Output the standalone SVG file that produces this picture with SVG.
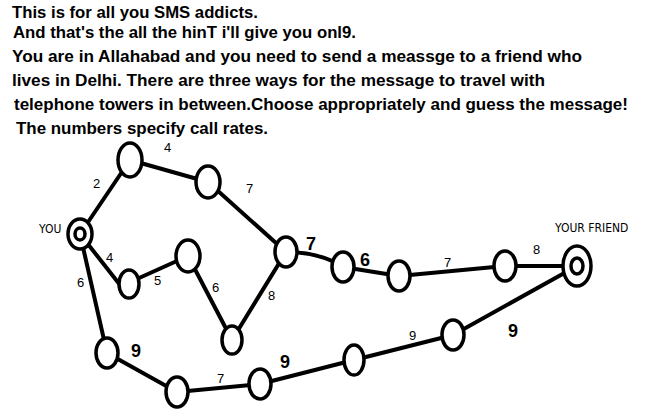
<svg xmlns="http://www.w3.org/2000/svg" width="661" height="420" viewBox="0 0 661 420">
<style>
.hdr{font-family:"Liberation Sans",Arial,sans-serif;font-size:17px;font-weight:bold;fill:#000}
.n ellipse{fill:#fff;stroke:#000;stroke-width:3.5}
.c path{fill:none;stroke:#000;stroke-width:4;stroke-linecap:round}
.s{font-family:"DejaVu Sans Condensed","Liberation Sans",sans-serif;font-size:12px;fill:#000}
.w{font-family:"Liberation Sans",Arial,sans-serif;font-size:13px;fill:#000}
.b{font-family:"Liberation Sans",Arial,sans-serif;font-size:18px;font-weight:bold;fill:#000}
</style>
<rect width="661" height="420" fill="#fff"/>
<g id="header">
<text class="hdr" x="12" y="18" textLength="246" lengthAdjust="spacingAndGlyphs">This is for all you SMS addicts.</text>
<text class="hdr" x="13" y="38" textLength="343" lengthAdjust="spacingAndGlyphs">And that's the all the hinT i'll give you onl9.</text>
<text class="hdr" x="12" y="62" textLength="570" lengthAdjust="spacingAndGlyphs">You are in Allahabad and you need to send a meassge to a friend who</text>
<text class="hdr" x="12" y="86" textLength="533" lengthAdjust="spacingAndGlyphs">lives in Delhi. There are three ways for the message to travel with</text>
<text class="hdr" x="14" y="110" textLength="614" lengthAdjust="spacingAndGlyphs">telephone towers in between.Choose appropriately and guess the message!</text>
<text class="hdr" x="16" y="134" textLength="252" lengthAdjust="spacingAndGlyphs">The numbers specify call rates.</text>
</g>
<g id="connectors" class="c">
<path d="M80,234 L130,160"/>
<path d="M130,160 L208,182"/>
<path d="M208,182 L286,252"/>
<path d="M286,252 Q320,252 343,267"/>
<path d="M343,267 L399,276"/>
<path d="M399,276 L505,266"/>
<path d="M505,266 L577,266"/>
<path d="M80,234 L124,290"/>
<path d="M128,283 L188,256"/>
<path d="M188,256 L232,340"/>
<path d="M232,340 L286,252"/>
<path d="M80,234 L107,353"/>
<path d="M107,353 L177,392"/>
<path d="M177,392 L260,384"/>
<path d="M260,384 L354,360"/>
<path d="M354,360 L453,335"/>
<path d="M453,335 L577,266"/>
</g>
<g id="you" class="n"><ellipse cx="80" cy="234" rx="12" ry="15"/><ellipse cx="80" cy="234" rx="5" ry="6"/><text class="s" x="39" y="233">YOU</text></g>
<g id="friend" class="n"><ellipse cx="577" cy="266" rx="14" ry="20"/><ellipse cx="577" cy="266" rx="6" ry="8"/><text class="s" x="555" y="232">YOUR FRIEND</text></g>
<g id="t1" class="n"><ellipse cx="130" cy="160" rx="12" ry="17"/></g>
<g id="t2" class="n"><ellipse cx="208" cy="182" rx="12" ry="16"/></g>
<g id="t3" class="n"><ellipse cx="286" cy="252" rx="11" ry="15"/></g>
<g id="t4" class="n"><ellipse cx="343" cy="267" rx="11" ry="15"/></g>
<g id="t5" class="n"><ellipse cx="399" cy="276" rx="11" ry="15"/></g>
<g id="t6" class="n"><ellipse cx="505" cy="266" rx="11" ry="15"/></g>
<g id="m1" class="n"><ellipse cx="129" cy="284" rx="10" ry="14"/></g>
<g id="m2" class="n"><ellipse cx="188" cy="256" rx="12" ry="16"/></g>
<g id="m3" class="n"><ellipse cx="232" cy="340" rx="10" ry="14"/></g>
<g id="b1" class="n"><ellipse cx="107" cy="353" rx="11" ry="15"/></g>
<g id="b2" class="n"><ellipse cx="177" cy="392" rx="11" ry="15"/></g>
<g id="b3" class="n"><ellipse cx="260" cy="384" rx="11" ry="15"/></g>
<g id="b4" class="n"><ellipse cx="354" cy="360" rx="10" ry="15"/></g>
<g id="b5" class="n"><ellipse cx="453" cy="335" rx="11" ry="15"/></g>
<g id="labels">
<text class="w" x="93" y="188">2</text>
<text class="w" x="164" y="152">4</text>
<text class="w" x="246" y="193">7</text>
<text class="b" x="306" y="250">7</text>
<text class="b" x="360" y="266">6</text>
<text class="w" x="444" y="267">7</text>
<text class="w" x="533" y="254">8</text>
<text class="w" x="106" y="262">4</text>
<text class="w" x="154" y="285">5</text>
<text class="w" x="212" y="292">6</text>
<text class="w" x="268" y="300">8</text>
<text class="w" x="77" y="287">6</text>
<text class="b" x="131" y="357">9</text>
<text class="w" x="217" y="383">7</text>
<text class="b" x="280" y="368">9</text>
<text class="w" x="409" y="340">9</text>
<text class="b" x="508" y="337">9</text>
</g>
</svg>
